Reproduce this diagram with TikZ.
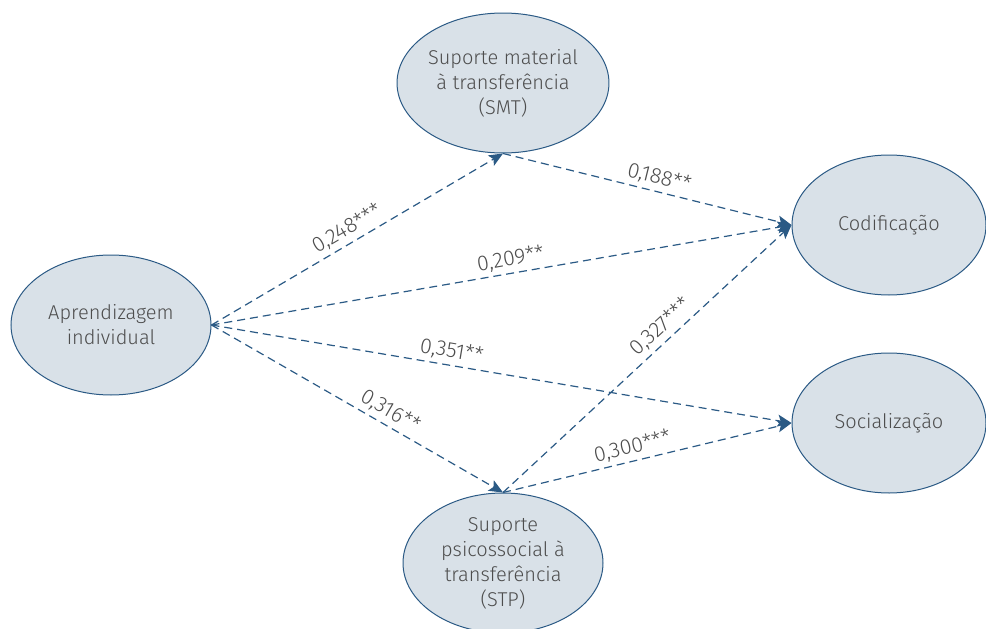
\documentclass[tikz,border=0pt]{standalone}
\usepackage{fontspec}
\setmainfont{Fira Sans Light}
\usepackage{xcolor}
\usepackage{tikz}
\usetikzlibrary{arrows.meta,positioning,shapes.geometric}
\definecolor{edgeblue}{HTML}{2B5A85}
\definecolor{nodefill}{HTML}{D9E1E8}
\definecolor{txtgray}{HTML}{4D4D4D}
\tikzset{
  construct/.style={ellipse,draw=edgeblue,line width=1pt,fill=nodefill,
    minimum width=200pt,minimum height=140pt,inner sep=0pt,align=center,
    text=txtgray,font=\fontsize{20}{25}\selectfont},
  link/.style={draw=edgeblue,line width=1.2pt,dash pattern=on 8pt off 5pt,
    -{Stealth[length=14pt,width=12pt,inset=3pt]}},
  coef/.style={sloped,above,inner sep=4pt,text=txtgray,
    font=\fontsize{21.5}{24}\selectfont},
}
\begin{document}
\begin{tikzpicture}[x=1pt,y=-1pt]
  \useasboundingbox (0,0) rectangle (986,629);
  % constructs
  \node[construct] (ap)  at (111,325) {Aprendizagem\\individual};
  \node[construct] (smt) at (503,83)  {Suporte material\\à transferência\\(SMT)};
  \node[construct] (stp) at (503,563) {Suporte\\psicossocial à\\transferência\\(STP)};
  \node[construct,minimum width=194pt] (cod) at (889,225) {Codificação};
  \node[construct,minimum width=194pt] (soc) at (889,423) {Socialização};
  % paths with coefficients
  \foreach \a/\b/\t/\p in {ap.east/smt.south/{0,248***}/0.49,
      smt.south/cod.west/{0,188**}/0.53,
      ap.east/cod.west/{0,209**}/0.52,
      ap.east/soc.west/{0,351**}/0.41,
      ap.east/stp.north/{0,316**}/0.59,
      stp.north/cod.west/{0,327***}/0.58,
      stp.north/soc.west/{0,300***}/0.46}
    \draw[link] (\a) -- node[coef,pos=\p]{\t} (\b);
\end{tikzpicture}
\end{document}
